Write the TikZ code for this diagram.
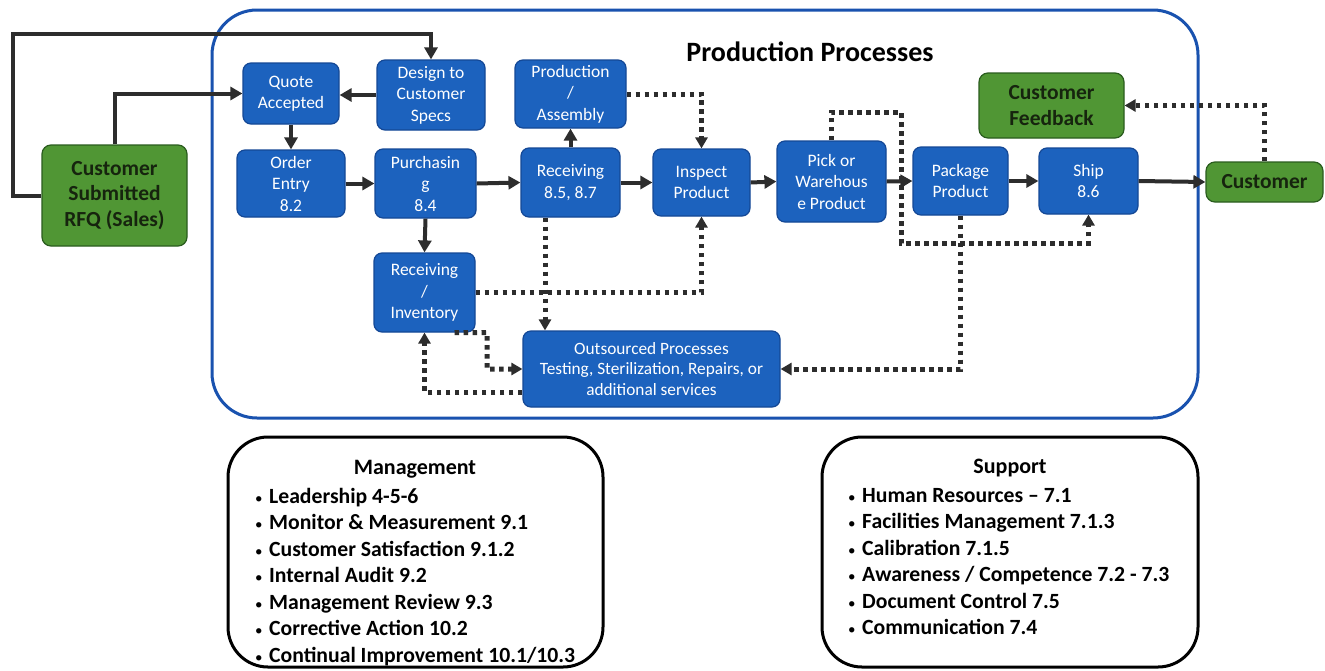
\documentclass[tikz,border=0pt]{standalone}
\usepackage{fontspec}
\setmainfont{Carlito}
\usetikzlibrary{arrows.meta,calc}
\definecolor{bfill}{RGB}{28,98,190}
\definecolor{bline}{RGB}{20,72,150}
\definecolor{gfill}{RGB}{80,150,52}
\definecolor{gline}{RGB}{42,92,30}
\definecolor{gtext}{RGB}{22,36,14}
\definecolor{outerblue}{RGB}{25,82,175}
\definecolor{cline}{RGB}{45,45,45}
\newcommand{\bul}{{\mdseries\fontsize{15}{15}\selectfont •}\hspace{0.3em}}
\begin{document}
\begin{tikzpicture}[x=1pt,y=-1pt,
  bbox/.style={draw=bline, fill=bfill, line width=1.2pt, rounded corners=8pt, text=white, align=center, font=\fontsize{17.5}{21.5}\selectfont, inner sep=1pt},
  gbox/.style={draw=gline, fill=gfill, line width=1.2pt, rounded corners=9pt, text=gtext, align=center, font=\fontsize{21.5}{25.5}\selectfont\bfseries, inner sep=1pt},
  conn/.style={draw=cline, line width=4pt, -{Triangle[length=12pt,width=13pt]}},
  dconn/.style={draw=cline, line width=5pt, dash pattern=on 4.5pt off 4.5pt, -{Triangle[length=11pt,width=12pt]}},
  panel/.style={draw=black, line width=3pt, rounded corners=40pt},
  listtext/.style={align=left, font=\fontsize{21.7}{26.5}\selectfont\bfseries, inner sep=0pt, anchor=north west},
  titletext/.style={font=\fontsize{22}{24}\selectfont\bfseries, inner sep=0pt}
]
\useasboundingbox (0,0) rectangle (1325,670);
\fill[white] (0,0) rectangle (1325,670);

% production frame
\node[draw=outerblue, line width=3pt, rounded corners=45pt, minimum width=986pt, minimum height=408pt] (prod) at (705,214) {};
\node[font=\fontsize{28}{30}\selectfont\bfseries, inner sep=0pt] (prodt) at (810,52) {Production Processes};

% nodes
\node[gbox, minimum width=145pt, minimum height=101pt] (rfq) at (114.5,195.5) {Customer\\Submitted\\RFQ (Sales)};
\node[bbox, minimum width=96pt, minimum height=61pt] (qa) at (291,93.5) {Quote\\Accepted};
\node[bbox, minimum width=108pt, minimum height=70pt] (dcs) at (431,95) {Design to\\Customer\\Specs};
\node[bbox, minimum width=108pt, minimum height=67pt] (oe) at (291,183.5) {Order\\Entry\\8.2};
\node[bbox, minimum width=101pt, minimum height=69pt] (pur) at (425.5,183.5) {Purchasin\\g\\8.4};
\node[bbox, minimum width=111pt, minimum height=68pt] (pa) at (570.5,94) {Production\\/\\Assembly};
\node[bbox, minimum width=99pt, minimum height=69pt] (rec) at (570.5,182.5) {Receiving\\8.5, 8.7};
\node[bbox, minimum width=97pt, minimum height=67pt] (insp) at (701.5,182.5) {Inspect\\Product};
\node[bbox, minimum width=109pt, minimum height=81pt] (pick) at (831.5,181.5) {Pick or\\Warehous\\e Product};
\node[bbox, minimum width=95pt, minimum height=68pt] (pkg) at (960.5,181) {Package\\Product};
\node[bbox, minimum width=99pt, minimum height=66pt] (ship) at (1088.5,181) {Ship\\8.6};
\node[gbox, minimum width=145pt, minimum height=65pt] (cf) at (1051.5,105.5) {Customer\\Feedback};
\node[gbox, minimum width=117pt, minimum height=40pt] (cust) at (1264.5,182) {Customer};
\node[bbox, minimum width=101pt, minimum height=79pt] (ri) at (424.5,292.5) {Receiving\\/\\Inventory};
\node[bbox, minimum width=257pt, minimum height=76pt, font=\fontsize{17.3}{20.5}\selectfont] (out) at (651.5,369) {Outsourced Processes\\Testing, Sterilization, Repairs, or\\additional services};

% helper coordinates
\coordinate (c1) at (13,34);
\coordinate (c2) at (901,112);
\coordinate (c3) at (901,243);
\coordinate (c4) at (487,332.5);

% solid connectors
\draw[conn] (rfq.west) -| (c1) -| (dcs.north);
\draw[conn] (rfq.north) |- (qa.west);
\draw[conn] (dcs.west) -- (qa.east |- dcs.west);
\draw[conn] (qa.south) -- (oe.north);
\draw[conn] (oe.east) -- (pur.west);
\draw[conn] (pur.east) -- (rec.west);
\draw[conn] (pur.south) -- (ri.north);
\draw[conn] (rec.north) -- (pa.south);
\draw[conn] (rec.east) -- (insp.west);
\draw[conn] (insp.east) -- (pick.west);
\draw[conn] (pick.east) -- (pkg.west);
\draw[conn] (pkg.east) -- (ship.west);
\draw[conn] (ship.east) -- (cust.west);

% dotted connectors
\draw[dconn] (pa.east) -| (insp.north);
\draw[dconn] (pick.north) |- (c2) -- (c3) -| (ship.south);
\draw[dconn] (pkg.south) |- (out.east);
\draw[dconn] ([xshift=-25.5pt]rec.south) -- ([xshift=-25.5pt]rec.south |- out.north);
\draw[dconn] (ri.east) -| (insp.south);
\draw[dconn] ([xshift=30pt]ri.south) -- (c4) |- (out.west);
\draw[dconn] ([yshift=-23pt]out.west) -| (ri.south);
\draw[dconn] (cust.north) |- (cf.east);

% bottom panels
\node[panel, minimum width=375pt, minimum height=230pt] (mgmt) at (415.5,552) {};
\node[titletext] (mgmtt) at (415,469) {Management};
\node[listtext] (mgmtl) at (255,488) {\bul Leadership 4-5-6\\\bul Monitor \& Measurement 9.1\\\bul Customer Satisfaction 9.1.2\\\bul Internal Audit 9.2\\\bul Management Review 9.3\\\bul Corrective Action 10.2\\\bul Continual Improvement 10.1/10.3};

\node[panel, minimum width=376pt, minimum height=230pt] (supp) at (1010,552) {};
\node[titletext] (suppt) at (1010,468) {Support};
\node[listtext] (suppl) at (848,488) {\bul Human Resources -- 7.1\\\bul Facilities Management 7.1.3\\\bul Calibration 7.1.5\\\bul Awareness / Competence 7.2 - 7.3\\\bul Document Control 7.5\\\bul Communication 7.4};
\end{tikzpicture}
\end{document}
